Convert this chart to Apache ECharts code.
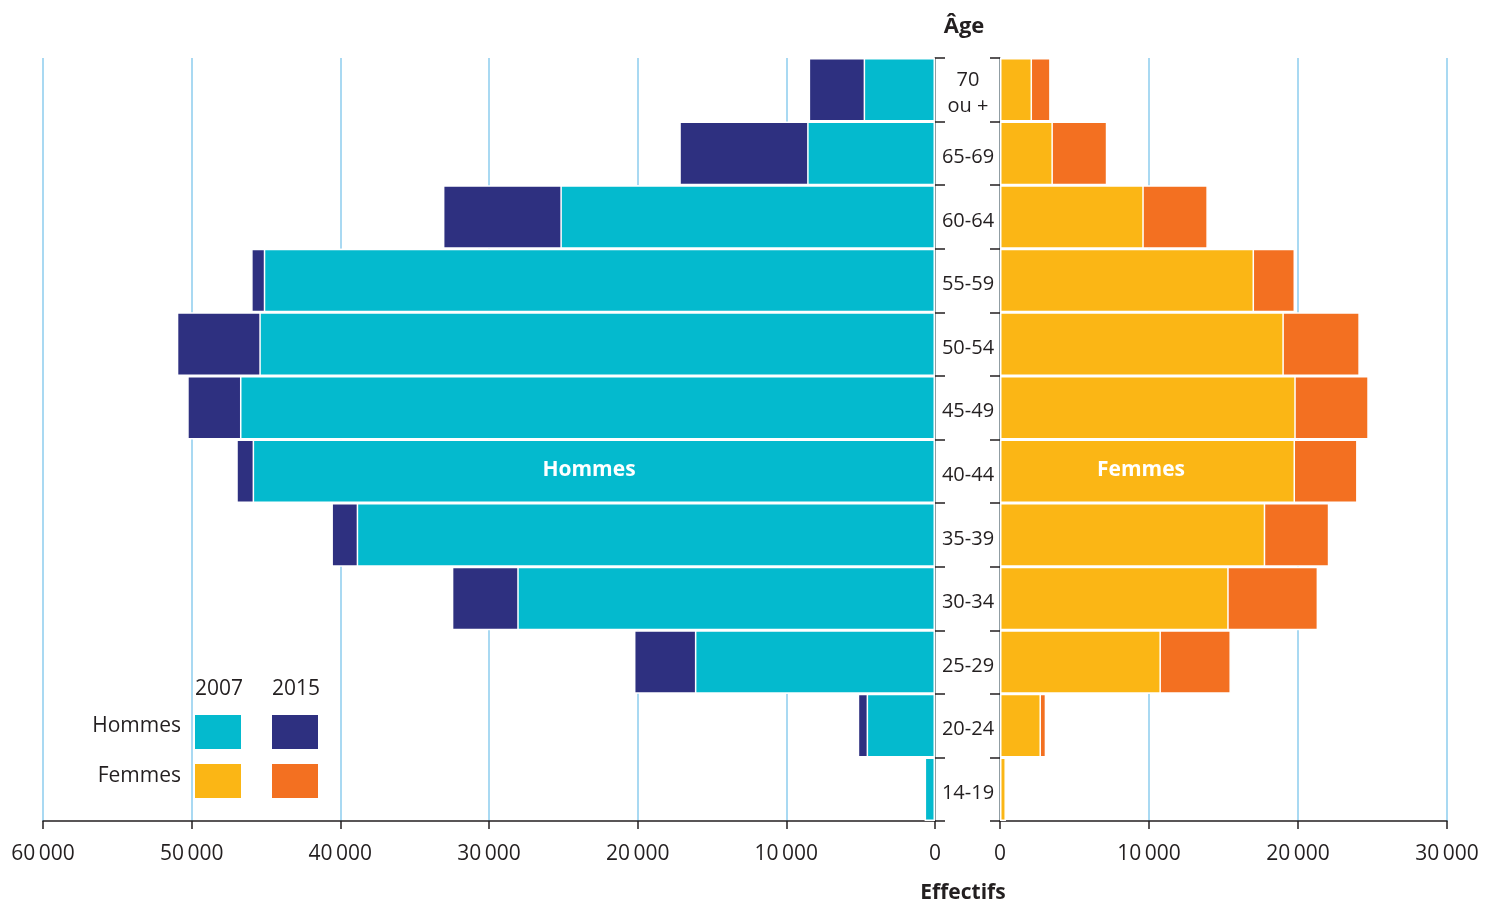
<!DOCTYPE html>
<html><head><meta charset="utf-8">
<script src="https://cdn.jsdelivr.net/npm/echarts@6/dist/echarts.min.js"></script>
<style>html,body{margin:0;padding:0;background:#fff}#c{width:1488px;height:902px}</style>
</head><body><div id="c"></div>
<script>
const ages = ['14-19','20-24','25-29','30-34','35-39','40-44','45-49','50-54','55-59','60-64','65-69','70\nou +'];
const hommes2007 = [700, 4600, 16150, 28100, 38900, 45900, 46750, 45450, 45150, 25200, 8600, 4800];
const hommes2015 = [600, 5200, 20250, 32500, 40600, 47000, 50300, 51000, 46000, 33100, 17200, 8500];
const femmes2007 = [400, 2750, 10800, 15350, 17800, 19800, 19850, 19050, 17050, 9650, 3550, 2150];
const femmes2015 = [350, 3100, 15500, 21350, 22100, 24000, 24750, 24150, 19800, 13950, 7200, 3400];
const leftTicks = [0, 10000, 20000, 30000, 40000, 50000, 60000];
const rightTicks = [0, 10000, 20000, 30000];

const C = {cyan:'#04BACE', navy:'#2E3080', yellow:'#FBB615', orange:'#F37021', grid:'#A9D9F2', text:'#231F20'};
const FONT = '"Open Sans", "Noto Sans", sans-serif';
const fmt = v => { const s = String(Math.round(v)); return s.length > 3 ? s.slice(0, s.length-3) + '\u2009' + s.slice(-3) : s; };

const chart = echarts.init(document.getElementById('c'));
const xCommon = (max, inverse, gi) => ({
  type:'value', gridIndex:gi, min:0, max:max, interval:10000, inverse:inverse,
  axisLine:{show:true, lineStyle:{color:C.text, width:1.5}},
  axisTick:{show:true, length:8, lineStyle:{color:C.text, width:1.5}},
  axisLabel:{color:C.text, fontSize:21, fontFamily:FONT, margin:23, formatter:fmt},
  splitLine:{show:true, lineStyle:{color:C.grid, width:2}}
});
const barStyle = color => ({color:color, borderColor:'#fff', borderWidth:1.5});
chart.setOption({
  animation:false,
  grid:[
    {left:43, right:553, top:58, bottom:81},
    {left:1000, right:41, top:58, bottom:81},
    {left:43, right:553, top:62, bottom:77}
  ],
  xAxis:[xCommon(60000, true, 0), xCommon(30000, false, 1),
    {type:'value', gridIndex:2, min:0, max:1, show:false}],
  yAxis:[
    {type:'category', gridIndex:0, data:ages, position:'right',
     axisLine:{show:true, lineStyle:{color:'#888', width:1.5}},
     axisTick:{show:true, length:10, lineStyle:{color:C.text, width:1.5}},
     axisLabel:{show:false}},
    {type:'category', gridIndex:1, data:ages, position:'left',
     axisLine:{show:true, lineStyle:{color:'#888', width:1.5}},
     axisTick:{show:true, length:10, lineStyle:{color:C.text, width:1.5}},
     axisLabel:{show:false}},
    {type:'category', gridIndex:2, data:ages, position:'right',
     axisLine:{show:false}, axisTick:{show:false}, splitLine:{show:false},
     axisLabel:{color:C.text, fontSize:20, fontFamily:FONT, align:'center', margin:33, lineHeight:26}}
  ],
  series:[
    {type:'bar', xAxisIndex:0, yAxisIndex:0, data:hommes2015, barWidth:'100%', barGap:'-100%', itemStyle:barStyle(C.navy), z:2},
    {type:'bar', xAxisIndex:0, yAxisIndex:0, data:hommes2007, barWidth:'100%', barGap:'-100%', itemStyle:barStyle(C.cyan), z:3},
    {type:'bar', xAxisIndex:1, yAxisIndex:1, data:femmes2015, barWidth:'100%', barGap:'-100%', itemStyle:barStyle(C.orange), z:2},
    {type:'bar', xAxisIndex:1, yAxisIndex:1, data:femmes2007, barWidth:'100%', barGap:'-100%', itemStyle:barStyle(C.yellow), z:3}
  ],
  graphic:[
    {type:'text', x:964, y:16, z:10, style:{text:'Âge', font:'bold 22px '+FONT, fill:C.text, textAlign:'center'}},
    {type:'text', x:963, y:883, z:10, style:{text:'Effectifs', font:'bold 21px '+FONT, fill:C.text, textAlign:'center'}},
    {type:'text', x:589, y:460, z:10, style:{text:'Hommes', font:'bold 21px '+FONT, fill:'#fff', textAlign:'center'}},
    {type:'text', x:1141, y:460, z:10, style:{text:'Femmes', font:'bold 21px '+FONT, fill:'#fff', textAlign:'center'}},
    {type:'text', x:219, y:679, z:10, style:{text:'2007', font:'21px '+FONT, fill:C.text, textAlign:'center'}},
    {type:'text', x:296, y:679, z:10, style:{text:'2015', font:'21px '+FONT, fill:C.text, textAlign:'center'}},
    {type:'text', x:181, y:716, z:10, style:{text:'Hommes', font:'21px '+FONT, fill:C.text, textAlign:'right'}},
    {type:'text', x:181, y:766, z:10, style:{text:'Femmes', font:'21px '+FONT, fill:C.text, textAlign:'right'}},
    {type:'rect', z:10, shape:{x:195, y:715, width:46, height:34}, style:{fill:C.cyan}},
    {type:'rect', z:10, shape:{x:272, y:715, width:46, height:34}, style:{fill:C.navy}},
    {type:'rect', z:10, shape:{x:195, y:764, width:46, height:34}, style:{fill:C.yellow}},
    {type:'rect', z:10, shape:{x:272, y:764, width:46, height:34}, style:{fill:C.orange}}
  ]
});
</script></body></html>
